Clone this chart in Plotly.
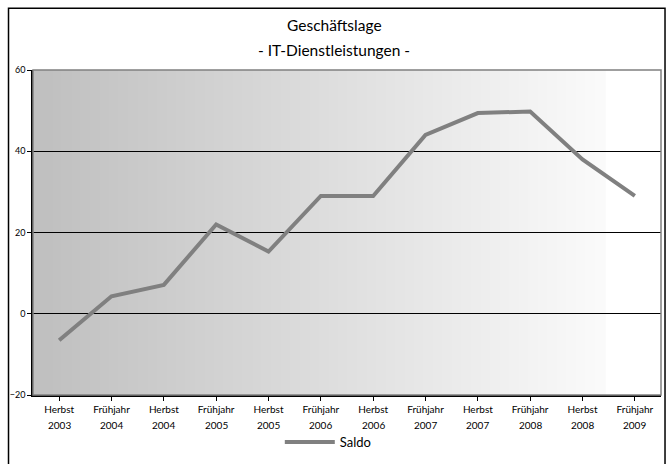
import plotly.graph_objects as go

seasons = ["Herbst", "Frühjahr", "Herbst", "Frühjahr", "Herbst", "Frühjahr",
           "Herbst", "Frühjahr", "Herbst", "Frühjahr", "Herbst", "Frühjahr"]
years = ["2003", "2004", "2004", "2005", "2005", "2006",
         "2006", "2007", "2007", "2008", "2008", "2009"]
saldo = [-6.5, 4.3, 7.1, 22.0, 15.3, 29.0, 29.0, 44.0, 49.4, 49.8, 38.0, 29.0]

y_ticks = [-20, 0, 20, 40, 60]

FONT = "Lato, 'Open Sans', sans-serif"
xs = list(range(len(seasons)))

fig = go.Figure()
fig.add_trace(go.Scatter(
    x=xs,
    y=saldo,
    mode="lines",
    name="Saldo",
    line=dict(color="#808080", width=4),
))

# horizontal gray-to-white gradient behind the plot area (Excel-style fill)
n_bands = 60
grad_end = 0.91
for i in range(n_bands):
    x0 = grad_end * i / n_bands
    x1 = grad_end * (i + 1) / n_bands + 0.002
    g = int(192 + (250 - 192) * i / (n_bands - 1))
    fig.add_shape(type="rect", xref="x domain", yref="y domain",
                  x0=x0, x1=x1, y0=0, y1=1, layer="below",
                  line_width=0, fillcolor=f"rgb({g},{g},{g})")

# plot border (top/right gray)
fig.add_shape(type="rect", xref="x domain", yref="y domain", x0=0, x1=1, y0=0, y1=1,
              line=dict(color="#808080", width=1.5), layer="above")
# outer chart frame
fig.add_shape(type="rect", xref="paper", yref="paper",
              x0=-0.039, x1=1.0064, y0=-0.22, y1=1.19,
              line=dict(color="black", width=1.5))

fig.add_annotation(text="Geschäftslage", xref="paper", yref="paper",
                   x=0.48, y=1.172, showarrow=False,
                   font=dict(family=FONT, size=15.5, color="black"))
fig.add_annotation(text="- IT-Dienstleistungen -", xref="paper", yref="paper",
                   x=0.48, y=1.096, showarrow=False,
                   font=dict(family=FONT, size=15.5, color="black"))

# second line of the category labels (year)
for i, yr in zip(xs, years):
    fig.add_annotation(text=yr, xref="x", yref="paper", x=i, y=-0.092,
                       yanchor="middle", showarrow=False,
                       font=dict(family=FONT, size=10, color="black"))

fig.update_xaxes(
    tickmode="array",
    tickvals=xs,
    ticktext=seasons,
    range=[-0.5, len(seasons) - 0.5],
    tickson="boundaries",
    ticks="outside", ticklen=4, tickcolor="black",
    showline=True, linecolor="black", linewidth=1.5,
    showgrid=False, zeroline=False,
    tickangle=0,
    tickfont=dict(family=FONT, size=10, color="black"),
)
fig.update_yaxes(
    range=[-20, 60],
    tickvals=y_ticks,
    ticks="outside", ticklen=4, tickcolor="black",
    showline=True, linecolor="black", linewidth=1.5,
    showgrid=True, gridcolor="black", gridwidth=1,
    zeroline=False,
    tickfont=dict(family=FONT, size=9, color="black"),
)

fig.update_layout(
    width=667, height=464,
    margin=dict(l=33, r=6, t=70, b=69),
    paper_bgcolor="white",
    plot_bgcolor="white",
    showlegend=True,
    legend=dict(orientation="h", x=0.393, y=-0.145, xanchor="left", yanchor="middle",
                font=dict(family=FONT, size=13, color="black"),
                itemwidth=50, bgcolor="rgba(0,0,0,0)"),
)

fig.write_html("out.html", config={"displayModeBar": False},
               post_script="document.body.style.margin='0';")
